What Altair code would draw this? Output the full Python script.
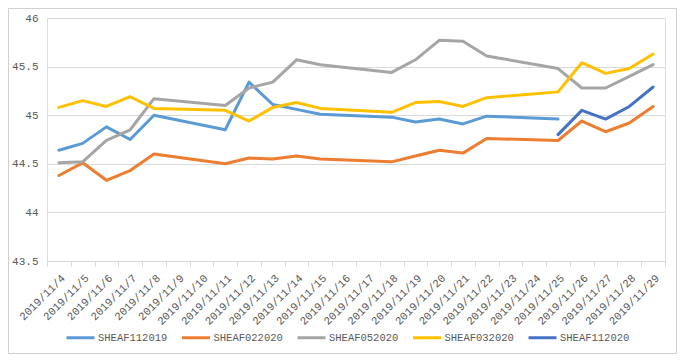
import altair as alt
import pandas as pd

# All category labels on the x axis (calendar days)
categories = [f"2019/11/{d}" for d in range(4, 30)]

# Trading days with data
trade_days = ["2019/11/4", "2019/11/5", "2019/11/6", "2019/11/7", "2019/11/8",
              "2019/11/11", "2019/11/12", "2019/11/13", "2019/11/14", "2019/11/15",
              "2019/11/18", "2019/11/19", "2019/11/20", "2019/11/21", "2019/11/22",
              "2019/11/25", "2019/11/26", "2019/11/27", "2019/11/28", "2019/11/29"]

series_names = ["SHEAF112019", "SHEAF022020", "SHEAF052020", "SHEAF032020", "SHEAF112020"]
series_colors = ["#5B9BD5", "#ED7D31", "#A5A5A5", "#FFC000", "#4472C4"]

sheaf112019 = [44.64, 44.71, 44.88, 44.75, 45.00, 44.85, 45.34, 45.11, 45.06, 45.01,
               44.98, 44.93, 44.96, 44.91, 44.99, 44.96, None, None, None, None]
sheaf022020 = [44.38, 44.51, 44.33, 44.43, 44.60, 44.50, 44.56, 44.55, 44.58, 44.55,
               44.52, 44.58, 44.64, 44.61, 44.76, 44.74, 44.94, 44.83, 44.92, 45.09]
sheaf052020 = [44.51, 44.52, 44.74, 44.85, 45.17, 45.10, 45.28, 45.34, 45.57, 45.52,
               45.44, 45.57, 45.77, 45.76, 45.61, 45.48, 45.28, 45.28, 45.40, 45.52]
sheaf032020 = [45.08, 45.15, 45.09, 45.19, 45.07, 45.05, 44.94, 45.08, 45.13, 45.07,
               45.03, 45.13, 45.14, 45.09, 45.18, 45.24, 45.54, 45.43, 45.48, 45.63]
sheaf112020 = [None, None, None, None, None, None, None, None, None, None,
               None, None, None, None, None, 44.80, 45.05, 44.96, 45.09, 45.29]

y_ticks = [43.5, 44, 44.5, 45, 45.5, 46]

all_values = [sheaf112019, sheaf022020, sheaf052020, sheaf032020, sheaf112020]
rows = []
for name, vals in zip(series_names, all_values):
    for day, v in zip(trade_days, vals):
        if v is not None:
            rows.append({"date": day, "idx": categories.index(day), "series": name, "value": v})
df = pd.DataFrame(rows)

FONT = "Liberation Mono"
TXT = "#595959"

lines = alt.Chart(df).mark_line(strokeWidth=3, strokeJoin="round", strokeCap="round").encode(
    x=alt.X("date:O", scale=alt.Scale(type="band", domain=categories, paddingInner=0, paddingOuter=0),
            bandPosition=0.5,
            axis=alt.Axis(title=None, labelAngle=-45, labelFont=FONT, labelFontSize=11, labelColor=TXT,
                          domainColor="#d9d9d9", tickColor="#d9d9d9", tickSize=5, tickBand="extent",
                          labelPadding=6, grid=False)),
    y=alt.Y("value:Q", scale=alt.Scale(domain=[43.5, 46], nice=False, zero=False),
            axis=alt.Axis(title=None, values=y_ticks, format="~f", labelFont=FONT, labelFontSize=11,
                          labelColor=TXT, domain=False, ticks=False, gridColor="#d9d9d9", labelPadding=9)),
    color=alt.Color("series:N", scale=alt.Scale(domain=series_names, range=series_colors),
                    legend=alt.Legend(title=None, orient="none", legendX=18, legendY=304,
                                      direction="horizontal", columns=5, symbolType="stroke",
                                      symbolSize=784, symbolStrokeWidth=3, labelFont=FONT,
                                      labelFontSize=10.5, labelColor=TXT, labelOffset=2,
                                      columnPadding=7.5)),
    order=alt.Order("idx:Q"),
)

border = alt.Chart(alt.Data(values=[{"a": 1}])).mark_rect(
    fill="white", fillOpacity=0, stroke="#d0d0d0", strokeWidth=1
).encode(
    x=alt.value(-38.5), x2=alt.value(629.5), y=alt.value(-9.5), y2=alt.value(335.5)
)

chart = alt.layer(border, lines).properties(
    width=618, height=243,
    autosize=alt.AutoSizeParams(type="none"),
    padding={"left": 39, "top": 10, "right": 12, "bottom": 93},
).configure_view(stroke=None).configure(background="white")

chart.save("out.html", embed_options={"renderer": "svg", "actions": False})
